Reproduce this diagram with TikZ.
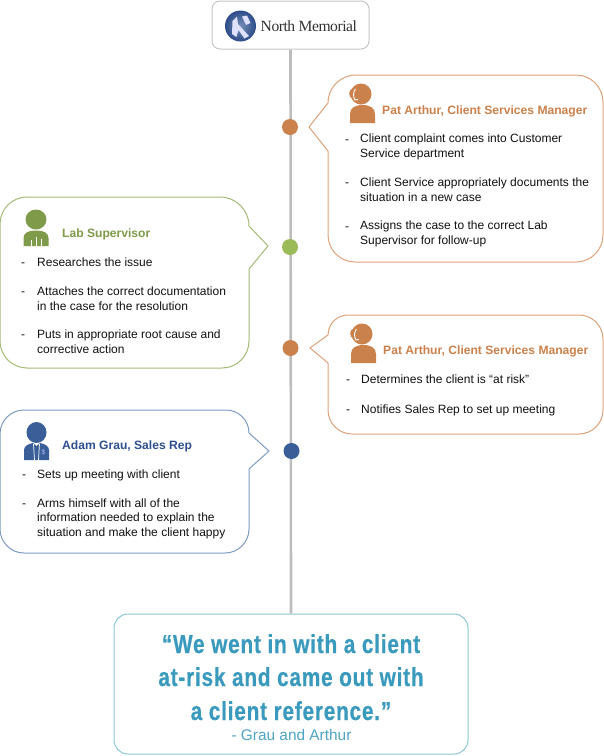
\documentclass[tikz,border=0pt]{standalone}
\usepackage{fontspec}
\setmainfont{Liberation Sans}
\newfontfamily\quotefont[FakeStretch=0.8,FakeBold=0.5,LetterSpace=3]{Liberation Sans Bold}
\newfontfamily\logofont[LetterSpace=-3]{Liberation Serif}
\definecolor{spine}{HTML}{BDBDBD}
\definecolor{orangeC}{HTML}{CB814B}
\definecolor{orangeL}{HTML}{DDA27A}
\definecolor{greenC}{HTML}{9BBB59}
\definecolor{greenD}{HTML}{7F9A48}
\definecolor{greenL}{HTML}{A3BA76}
\definecolor{blueC}{HTML}{3A5F98}
\definecolor{blueL}{HTML}{7F9CC4}
\definecolor{blueT}{HTML}{2F5090}
\definecolor{tealC}{HTML}{3A9ABD}
\definecolor{tealL}{HTML}{8CC6DA}
\definecolor{inkC}{HTML}{111111}
\tikzset{
  bubble/.style={line width=1pt,fill=white},
  dot/.style={circle,inner sep=0pt,minimum size=16pt},
  head/.style={anchor=base west,inner sep=0pt,font=\fontsize{12.1}{14}\selectfont\bfseries},
  body/.style={anchor=base west,inner sep=0pt,align=left,font=\fontsize{12}{14.6}\selectfont,text=inkC},
  dashmark/.style={anchor=base west,inner sep=0pt,font=\fontsize{12}{14.6}\selectfont,text=inkC},
  quoteline/.style={inner sep=0pt,anchor=base,font=\quotefont\fontsize{26}{30}\selectfont,text=tealC},
}
\begin{document}
\begin{tikzpicture}[x=1pt,y=-1pt]
\useasboundingbox (0,0) rectangle (604,756);

% end boxes of the timeline
\node[draw=black!22,line width=1pt,fill=white,rounded corners=8pt,minimum width=157pt,minimum height=48pt,inner sep=0pt] (logo) at (290.5,25) {};
\node[draw=tealL,line width=1pt,fill=white,rounded corners=14pt,minimum width=354pt,minimum height=140pt,inner sep=0pt] (quote) at (291,684) {};
\draw[spine,line width=2.6pt] (logo.south) -- (quote.north);

% logo mark and wordmark
\shade[inner color=blueC!70,outer color=blueT!95!black] (240.5,26) circle (15.5);
\fill[white!88!blue] (232.5,21) -- (237,16.5) -- (238,24) -- (249,36) -- (244.5,38.5) -- (238.5,30) -- (236.5,37) -- (232,34) -- cycle;
\fill[white!88!blue] (242,16.5) -- (247,15.5) -- (250.5,23) -- (246,25) -- cycle;
\node[inner sep=0pt,anchor=base west,font=\logofont\fontsize{15.6}{20}\selectfont,text=black!80] (logotext) at (260.5,31.5) {North Memorial};

% timeline markers
\node[dot,fill=orangeC] (m1) at (290,127) {};
\node[dot,fill=greenC] (m2) at (290,247) {};
\node[dot,fill=orangeC] (m3) at (290.5,348) {};
\node[dot,fill=blueC] (m4) at (291.5,451) {};

% speech bubbles: rounded outline with a sharp pointer towards the spine
\draw[bubble,draw=orangeL] (356,75) -- (576,75) arc[start angle=-90,end angle=0,radius=27] -- (603,235) arc[start angle=0,end angle=90,radius=27] -- (355,262) arc[start angle=90,end angle=180,radius=27] -- (328,151) -- (309,127) -- (328,103) arc[start angle=180,end angle=270,radius=28] -- cycle;
\draw[bubble,draw=greenL] (27,197) -- (220,197) arc[start angle=-90,end angle=0,radius=29] -- (249,226) -- (268,246) -- (249,269) -- (249,341) arc[start angle=0,end angle=90,radius=27] -- (27,368) arc[start angle=90,end angle=180,radius=27] -- (0,224) arc[start angle=180,end angle=270,radius=27] -- cycle;
\draw[bubble,draw=orangeL] (348,315) -- (579,315) arc[start angle=-90,end angle=0,radius=24] -- (603,410) arc[start angle=0,end angle=90,radius=24] -- (352,434) arc[start angle=90,end angle=180,radius=24] -- (328,363) -- (310,348) -- (328,335) arc[start angle=180,end angle=270,radius=20] -- cycle;
\draw[bubble,draw=blueL] (24,410) -- (226,410) arc[start angle=-90,end angle=0,radius=23] -- (249,433) -- (269,451) -- (249,469) -- (249,529) arc[start angle=0,end angle=90,radius=24] -- (24,553) arc[start angle=90,end angle=180,radius=24] -- (0,434) arc[start angle=180,end angle=270,radius=24] -- cycle;

% headset figure, used twice
\foreach \dx/\dy in {0/0,1/240}{
  \begin{scope}[shift={(\dx,\dy)}]
    \fill[orangeC] (361,94) circle (10.5);
    \fill[orangeC] (350,123) -- (350,114) .. controls (350,108) and (355,105) .. (362.5,105) .. controls (370,105) and (375,108) .. (375,114) -- (375,123) -- cycle;
    \fill[orangeC] (352,93.5) ellipse (2.8 and 4.5);
    \draw[white,line width=0.9pt] (355.5,89) .. controls (353,92) and (353,97) .. (355,100) -- (358,99.5);
  \end{scope}
}

% lab figure
\fill[greenD] (36,219.5) ellipse (10.5 and 10);
\fill[greenD] (23.5,246) -- (23.5,238) .. controls (23.5,233) and (28,230.5) .. (36,230.5) .. controls (44,230.5) and (48.5,233) .. (48.5,238) -- (48.5,246) -- cycle;
\draw[white,line width=0.9pt] (31.5,246) -- (31.5,240) (36.5,246) -- (36.5,237) (41,246) -- (41,239);

% sales figure
\fill[blueC] (36.5,432.5) ellipse (10 and 10.5);
\fill[blueC] (24,460) -- (24,450) .. controls (24,446) and (28,444) .. (33,443) -- (36.5,446) -- (40,443) .. controls (45,444) and (49,446) .. (49,450) -- (49,460) -- cycle;
\draw[white,line width=0.7pt] (33.5,444) -- (34.5,460) (39.5,444) -- (38.5,460);
\node[inner sep=0pt,font=\fontsize{6.5}{7}\selectfont,text=white!70!blue] (dollar) at (43.5,452) {\$};

% first bubble text
\node[head,text=orangeC] (h1) at (382,114.5) {Pat Arthur, Client Services Manager};
\node[dashmark] (d1a) at (345,143) {-};
\node[body] (t1a) at (360,157.5) {Client complaint comes into Customer\\Service department};
\node[dashmark] (d1b) at (345,186.5) {-};
\node[body] (t1b) at (360,201) {Client Service appropriately documents the\\situation in a new case};
\node[dashmark] (d1c) at (345,230) {-};
\node[body] (t1c) at (360,244.5) {Assigns the case to the correct Lab\\Supervisor for follow-up};

% second bubble text
\node[head,text=greenD] (h2) at (62,237.5) {Lab Supervisor};
\node[dashmark] (d2a) at (21,266) {-};
\node[body] (t2a) at (37,266) {Researches the issue};
\node[dashmark] (d2b) at (21,295.5) {-};
\node[body] (t2b) at (37,310) {Attaches the correct documentation\\in the case for the resolution};
\node[dashmark] (d2c) at (21,338.5) {-};
\node[body] (t2c) at (37,353) {Puts in appropriate root cause and\\corrective action};

% third bubble text
\node[head,text=orangeC] (h3) at (383,354.5) {Pat Arthur, Client Services Manager};
\node[dashmark] (d3a) at (346,383) {-};
\node[body] (t3a) at (361,383) {Determines the client is “at risk”};
\node[dashmark] (d3b) at (346,413) {-};
\node[body] (t3b) at (361,413) {Notifies Sales Rep to set up meeting};

% fourth bubble text
\node[head,text=blueT] (h4) at (62,449.5) {Adam Grau, Sales Rep};
\node[dashmark] (d4a) at (22,478) {-};
\node[body] (t4a) at (37,478) {Sets up meeting with client};
\node[dashmark] (d4b) at (22,507.5) {-};
\node[body] (t4b) at (37,536.5) {Arms himself with all of the\\information needed to explain the\\situation and make the client happy};

% closing quotation
\node[quoteline] (q1) at (291,653) {“We went in with a client};
\node[quoteline] (q2) at (291,686) {at-risk and came out with};
\node[quoteline] (q3) at (291,720) {a client reference.”};
\node[inner sep=0pt,anchor=base,font=\fontsize{15.4}{17}\selectfont,text=tealC!90] (q4) at (291.5,740) {- Grau and Arthur};
\end{tikzpicture}
\end{document}
